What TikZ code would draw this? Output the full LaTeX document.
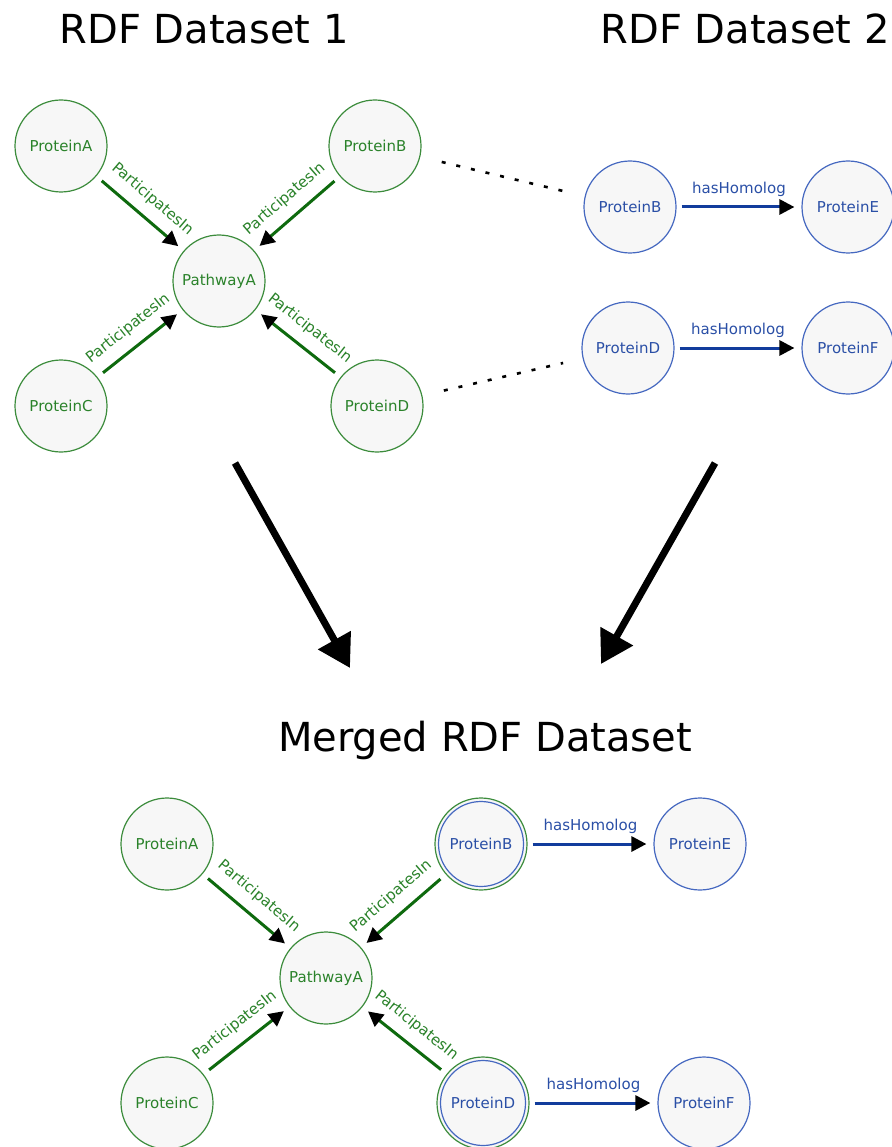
\documentclass[tikz,border=0pt]{standalone}
\usepackage{fontspec}
\setmainfont{DejaVu Sans}
\usetikzlibrary{arrows.meta}

\definecolor{gtext}{HTML}{2A822A}
\definecolor{gline}{HTML}{3C8C3C}
\definecolor{garrow}{HTML}{0E6A0E}
\definecolor{btext}{HTML}{2A4FA6}
\definecolor{bline}{HTML}{4568C0}
\definecolor{barrow}{HTML}{123C9C}
\definecolor{nodefill}{HTML}{F7F7F7}

\tikzset{
  gnode/.style={circle, draw=gline, fill=nodefill, line width=1.2pt,
    minimum size=92pt, inner sep=0pt, text=gtext,
    font=\fontsize{15}{18}\selectfont},
  bnode/.style={gnode, draw=bline, text=btext},
  mnode/.style={gnode, text=btext},
  innerring/.style={draw=bline, line width=1.2pt},
  partic/.style={draw=garrow, line width=3pt,
    -{Triangle[length=15pt,width=15pt,color=black]},
    shorten <=7pt, shorten >=7pt},
  homol/.style={draw=barrow, line width=3pt,
    -{Triangle[length=15pt,width=15pt,color=black]},
    shorten <=5pt, shorten >=7pt},
  plabel/.style={sloped, above=7pt, text=gtext,
    font=\fontsize{15}{18}\selectfont},
  hlabel/.style={above=6pt, text=btext,
    font=\fontsize{15}{18}\selectfont},
  link/.style={dash pattern=on 4pt off 11pt, line width=2.6pt,
    shorten <=22pt, shorten >=20pt},
  bigarrow/.style={line width=7pt, -{Triangle[length=32pt,width=36pt]}},
  heading/.style={font=\fontsize{40}{48}\selectfont}
}

\begin{document}
\begin{tikzpicture}[x=1pt, y=-1pt]
\useasboundingbox (0,0) rectangle (891,1147);

% headings
\node[heading] (h1) at (204,29) {RDF Dataset 1};
\node[heading] (h2) at (745,29) {RDF Dataset 2};
\node[heading] (h3) at (485,740) {Merged RDF Dataset};

% dataset 1
\node[gnode] (tA) at (61,146)  {ProteinA};
\node[gnode] (tB) at (375,146) {ProteinB};
\node[gnode] (tP) at (219,281) {PathwayA};
\node[gnode] (tC) at (61,406)  {ProteinC};
\node[gnode] (tD) at (377,406) {ProteinD};

\draw[partic] (tA) -- node[plabel] {ParticipatesIn} (tP);
\draw[partic] (tB) -- node[plabel] {ParticipatesIn} (tP);
\draw[partic] (tC) -- node[plabel] {ParticipatesIn} (tP);
\draw[partic] (tD) -- node[plabel] {ParticipatesIn} (tP);

% dataset 2
\node[bnode] (rB) at (630,207) {ProteinB};
\node[bnode] (rE) at (848,207) {ProteinE};
\node[bnode] (rD) at (628,348) {ProteinD};
\node[bnode] (rF) at (848,348) {ProteinF};

\draw[homol] (rB) -- node[hlabel] {hasHomolog} (rE);
\draw[homol] (rD) -- node[hlabel] {hasHomolog} (rF);

% same resources in both datasets
\draw[link] (tB) -- (rB);
\draw[link] (tD) -- (rD);

% merge arrows
\coordinate (m1s) at (235,463);
\coordinate (m1e) at (350,668);
\coordinate (m2s) at (715,463);
\coordinate (m2e) at (601,664);
\draw[bigarrow] (m1s) -- (m1e);
\draw[bigarrow] (m2s) -- (m2e);

% merged dataset
\node[gnode] (bA) at (167,844)  {ProteinA};
\node[mnode] (bB) at (481,844)  {ProteinB};
\node[gnode] (bP) at (326,978)  {PathwayA};
\node[gnode] (bC) at (167,1103) {ProteinC};
\node[mnode] (bD) at (483,1103) {ProteinD};
\node[bnode] (bE) at (700,844)  {ProteinE};
\node[bnode] (bF) at (704,1103) {ProteinF};

\draw[innerring] (bB.center) circle[radius=42.5pt];
\draw[innerring] (bD.center) circle[radius=42.5pt];

\draw[partic] (bA) -- node[plabel] {ParticipatesIn} (bP);
\draw[partic] (bB) -- node[plabel] {ParticipatesIn} (bP);
\draw[partic] (bC) -- node[plabel] {ParticipatesIn} (bP);
\draw[partic] (bD) -- node[plabel] {ParticipatesIn} (bP);

\draw[homol] (bB) -- node[hlabel] {hasHomolog} (bE);
\draw[homol] (bD) -- node[hlabel] {hasHomolog} (bF);
\end{tikzpicture}
\end{document}
